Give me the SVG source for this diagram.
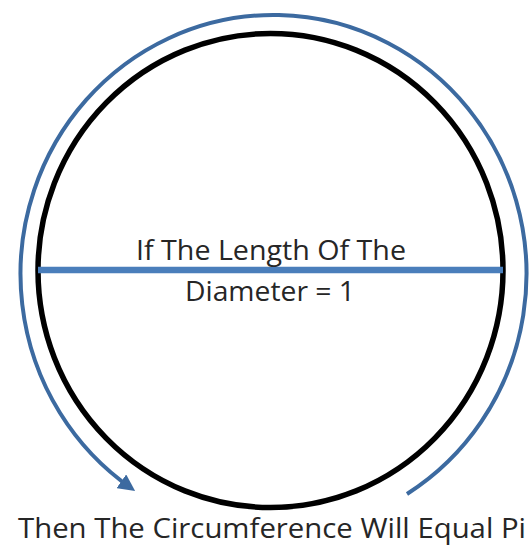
<svg xmlns="http://www.w3.org/2000/svg" width="532" height="547" viewBox="0 0 532 547">
<style>
.t{font-family:"Open Sans","Liberation Sans",sans-serif;fill:#262626;text-anchor:middle}
</style>
<defs>
<marker id="ah" viewBox="0 0 10 10" refX="7" refY="5" markerWidth="4.2" markerHeight="4.2" orient="auto" markerUnits="strokeWidth">
<path d="M0,0 L10,5 L0,10 Z" fill="#3C6AA0"/>
</marker>
</defs>
<rect width="532" height="547" fill="#fff"/>
<g id="circle">
<ellipse cx="270.5" cy="270.5" rx="232.5" ry="237" fill="none" stroke="#000" stroke-width="5.5"/>
</g>
<g id="connectors">
<path d="M407,494 A253,259 0 1 0 131,488" fill="none" stroke="#3C6AA0" stroke-width="4" marker-end="url(#ah)"/>
<line x1="38" y1="270" x2="503" y2="270" stroke="#4A7EBB" stroke-width="6.5"/>
</g>
<g id="labels">
<text class="t" x="271" y="260" font-size="28" textLength="270" lengthAdjust="spacingAndGlyphs">If The Length Of The</text>
<text class="t" x="270" y="301" font-size="28" textLength="170" lengthAdjust="spacingAndGlyphs">Diameter = 1</text>
<text class="t" x="272" y="538" font-size="28" textLength="508" lengthAdjust="spacingAndGlyphs">Then The Circumference Will Equal Pi</text>
</g>
</svg>
